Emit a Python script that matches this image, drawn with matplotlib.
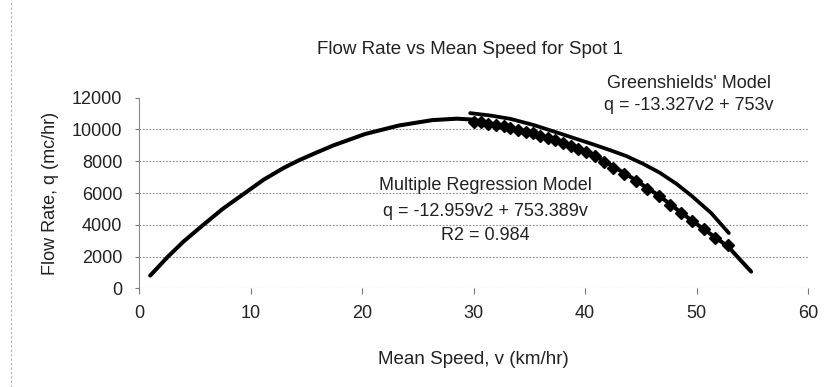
import matplotlib
matplotlib.use("Agg")
import matplotlib.pyplot as plt
from matplotlib.lines import Line2D

plt.rcParams['font.family'] = ['Liberation Sans', 'DejaVu Sans']

# Multiple regression curve
reg_v = [1.0, 2.6, 4.0, 5.6, 7.5, 9.5, 11.2, 13.0, 14.4, 15.7, 17.4, 20.3, 23.3,
         26.3, 28.5, 30.0, 32.5, 35.0, 37.0, 39.3, 41.5, 44.0, 46.6, 49.6, 51.2, 52.8, 54.9]
reg_q = [800, 2000, 2950, 3900, 5000, 6000, 6850, 7590, 8080, 8480, 8990, 9720, 10250,
         10590, 10680, 10620, 10200, 9780, 9380, 8800, 8110, 7050, 5850, 4250, 3450, 2650, 1050]

# Greenshields' model curve
gs_v = [29.7, 31.5, 33.3, 35.4, 37.4, 39.0, 40.7, 42.2, 43.7, 45.2, 46.7, 48.2, 49.6, 51.3, 52.9]
gs_q = [11030, 10880, 10670, 10280, 9830, 9460, 9070, 8710, 8330, 7840, 7280, 6580, 5800, 4750, 3480]

# Observed data points (diamonds)
obs_v = [30.0, 30.7, 31.3, 32.0, 32.7, 33.3, 34.0, 34.7, 35.3, 36.0, 36.7, 37.3, 38.0,
         38.7, 39.4, 40.1, 40.9, 41.7, 42.5, 43.5, 44.6, 45.6, 46.6, 47.6, 48.6, 49.6,
         50.7, 51.7, 52.8]
obs_q = [10500, 10440, 10370, 10290, 10200, 10110, 9990, 9870, 9760, 9620, 9480, 9350, 9170,
         8980, 8780, 8560, 8330, 7970, 7600, 7170, 6750, 6270, 5800, 5270, 4750, 4220,
         3730, 3160, 2740]

x_ticks = [0, 10, 20, 30, 40, 50, 60]
y_ticks = [0, 2000, 4000, 6000, 8000, 10000, 12000]
grid_levels = [0, 2000, 4000, 6000, 8000, 10000]

title = "Flow Rate vs Mean Speed for Spot 1"
xlabel = "Mean Speed, v (km/hr)"
ylabel = "Flow Rate, q (mc/hr)"

fig = plt.figure(figsize=(8.30, 3.87), dpi=100)
ax = fig.add_axes([0.1675, 0.255, 0.806, 0.4925])

txt = '#222222'
fs = 13
for y in grid_levels:
    ax.axhline(y, color='#8a8a8a', lw=0.8, ls=(0, (1.5, 1.5)), zorder=1)

ax.plot(obs_v, obs_q, ls='none', marker='D', ms=6.2, color='black', zorder=3)
ax.plot(reg_v, reg_q, color='black', lw=2.9, solid_capstyle='round', zorder=4)
ax.plot(gs_v, gs_q, color='black', lw=2.7, solid_capstyle='round', zorder=4)

ax.set_xlim(0, 60)
ax.set_ylim(0, 12000)
ax.set_xticks(x_ticks)
ax.set_yticks(y_ticks)
ax.tick_params(axis='x', length=4, width=0.8, color='#777777', pad=8, labelsize=fs, labelcolor=txt)
ax.tick_params(axis='y', length=3, width=0.8, color='#777777', pad=9, labelsize=fs, labelcolor=txt)
for s in ['top', 'right', 'bottom']:
    ax.spines[s].set_visible(False)
ax.spines['left'].set_color('#888888')
ax.spines['left'].set_linewidth(0.8)
ax.patch.set_alpha(0)

ax.set_xlabel(xlabel, fontsize=13.5, color=txt, labelpad=21)
ax.set_ylabel(ylabel, fontsize=fs, color=txt, labelpad=9)

fig.text(470 / 830, 1 - 49 / 387, title, ha='center', va='center', fontsize=13.5, color=txt)

ax.text(689 / 830, 1 - 83 / 387, "Greenshields' Model", transform=fig.transFigure,
        ha='center', va='center', fontsize=fs, color=txt)
ax.text(689 / 830, 1 - 105 / 387, "q = -13.327v2 + 753v", transform=fig.transFigure,
        ha='center', va='center', fontsize=fs, color=txt)
ax.text(485 / 830, 1 - 186 / 387, "Multiple Regression Model", transform=fig.transFigure,
        ha='center', va='center', fontsize=fs, color=txt, zorder=5)
ax.text(485 / 830, 1 - 211 / 387, "q = -12.959v2 + 753.389v", transform=fig.transFigure,
        ha='center', va='center', fontsize=fs, color=txt, zorder=5)
ax.text(485 / 830, 1 - 235 / 387, "R2 = 0.984", transform=fig.transFigure,
        ha='center', va='center', fontsize=fs, color=txt, zorder=5)

fig.add_artist(Line2D([11 / 830, 11 / 830], [0.0, 1.0], transform=fig.transFigure,
                      color='#b0b0b0', lw=0.8, ls=(0, (2, 2))))

fig.savefig("out.png", dpi=100)
